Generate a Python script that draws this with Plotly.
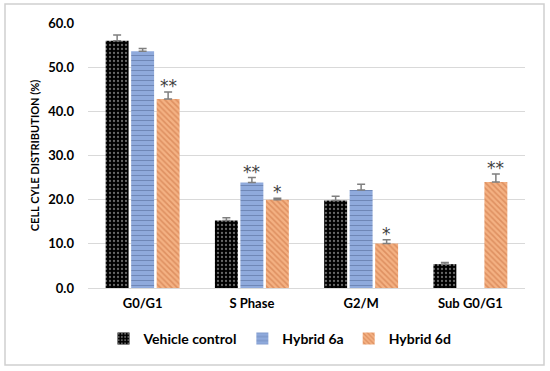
import plotly.graph_objects as go

categories = ["G0/G1", "S Phase", "G2/M", "Sub G0/G1"]
series_names = ["Vehicle control", "Hybrid 6a", "Hybrid 6d"]
vehicle = [56.0, 15.3, 19.8, 5.4]
vehicle_err = [1.3, 0.6, 1.0, 0.4]
hybrid6a = [53.6, 23.9, 22.2, None]
hybrid6a_err = [0.6, 1.1, 1.3, None]
hybrid6d = [42.8, 20.0, 10.1, 24.0]
hybrid6d_err = [1.6, 0.3, 0.8, 1.8]
sig_vehicle = ["", "", "", ""]
sig_6a = ["", "**", "", ""]
sig_6d = ["**", "*", "*", "**"]
y_ticks = [0, 10, 20, 30, 40, 50, 60]

FONT = "Lato"
colors = ["#000000", "#8FAADC", "#F4B183"]
fg = ["#d0d0d0", "#50648f", "#c8703f"]
shapes_p = [".", "-", "\\"]
sizes = [4, 5, 4]
solid = [0.25, 0.2, 0.4]

fig = go.Figure()
all_vals = [vehicle, hybrid6a, hybrid6d]
all_errs = [vehicle_err, hybrid6a_err, hybrid6d_err]
for name, vals, errs, c, f, p, s, so in zip(series_names, all_vals, all_errs, colors, fg, shapes_p, sizes, solid):
    fig.add_trace(go.Bar(
        x=categories, y=vals, name=name,
        marker=dict(color=c, line=dict(width=0),
                    pattern=dict(shape=p, fgcolor=f, bgcolor=c, size=s, solidity=so)),
        error_y=dict(type="data", array=[e if e is not None else 0 for e in errs],
                     arrayminus=[0]*len(errs), symmetric=False,
                     color="#7f7f7f", thickness=1.5, width=4),
    ))

slot_px = 25.5
annotations = []
for si, (vals, errs, sig) in enumerate(zip(all_vals, all_errs, [sig_vehicle, sig_6a, sig_6d])):
    for ci, cat in enumerate(categories):
        if sig[ci]:
            annotations.append(dict(
                x=cat, y=vals[ci] + errs[ci], xref="x", yref="y",
                text=sig[ci], showarrow=False, yanchor="bottom",
                xshift=(si - 1) * slot_px, yshift=-6,
                font=dict(family="DejaVu Sans", size=17, color="#404040")))

W, H = 550, 371
ml, mr, mt, mb = 88, 25, 23, 83
pw, ph = W - ml - mr, H - mt - mb
def px(x): return (x - ml) / pw
def py(y): return (H - mb - y) / ph

fig.update_layout(
    width=W, height=H,
    margin=dict(l=ml, r=mr, t=mt, b=mb),
    paper_bgcolor="white", plot_bgcolor="white",
    barmode="group", bargap=0.30, bargroupgap=0.10,
    font=dict(family=FONT, size=13, color="#000000"),
    showlegend=True,
    legend=dict(orientation="h", x=px(280), xanchor="center", y=py(339), yanchor="middle",
                font=dict(family=FONT, size=14, color="#000000", weight="bold"),
                itemwidth=30, tracegroupgap=0),
    annotations=annotations,
    shapes=[dict(type="rect", xref="paper", yref="paper",
                 x0=px(5), x1=px(544), y0=py(365), y1=py(4),
                 line=dict(color="#d0d0d0", width=1.5), fillcolor="rgba(0,0,0,0)", layer="below")],
    xaxis=dict(showgrid=False, showline=True, linecolor="#d9d9d9", linewidth=1,
               tickfont=dict(family=FONT, size=13, color="#000000", weight="bold"),
               ticks="", ticklabelstandoff=3),
    yaxis=dict(range=[0, 60], tickvals=y_ticks, tickformat=".1f",
               showgrid=True, gridcolor="#d9d9d9", gridwidth=1.2,
               zeroline=False, showline=False, ticks="",
               tickfont=dict(family=FONT, size=13, color="#000000", weight="bold"),
               ticklabelstandoff=13,
               title=dict(text="CELL CYLE DISTRIBUTION (%)", standoff=6,
                          font=dict(family=FONT, size=11, color="#000000", weight="bold"))),
)

fig.write_html("out.html", post_script="document.body.style.margin='0';",
               config={"displayModeBar": False})
